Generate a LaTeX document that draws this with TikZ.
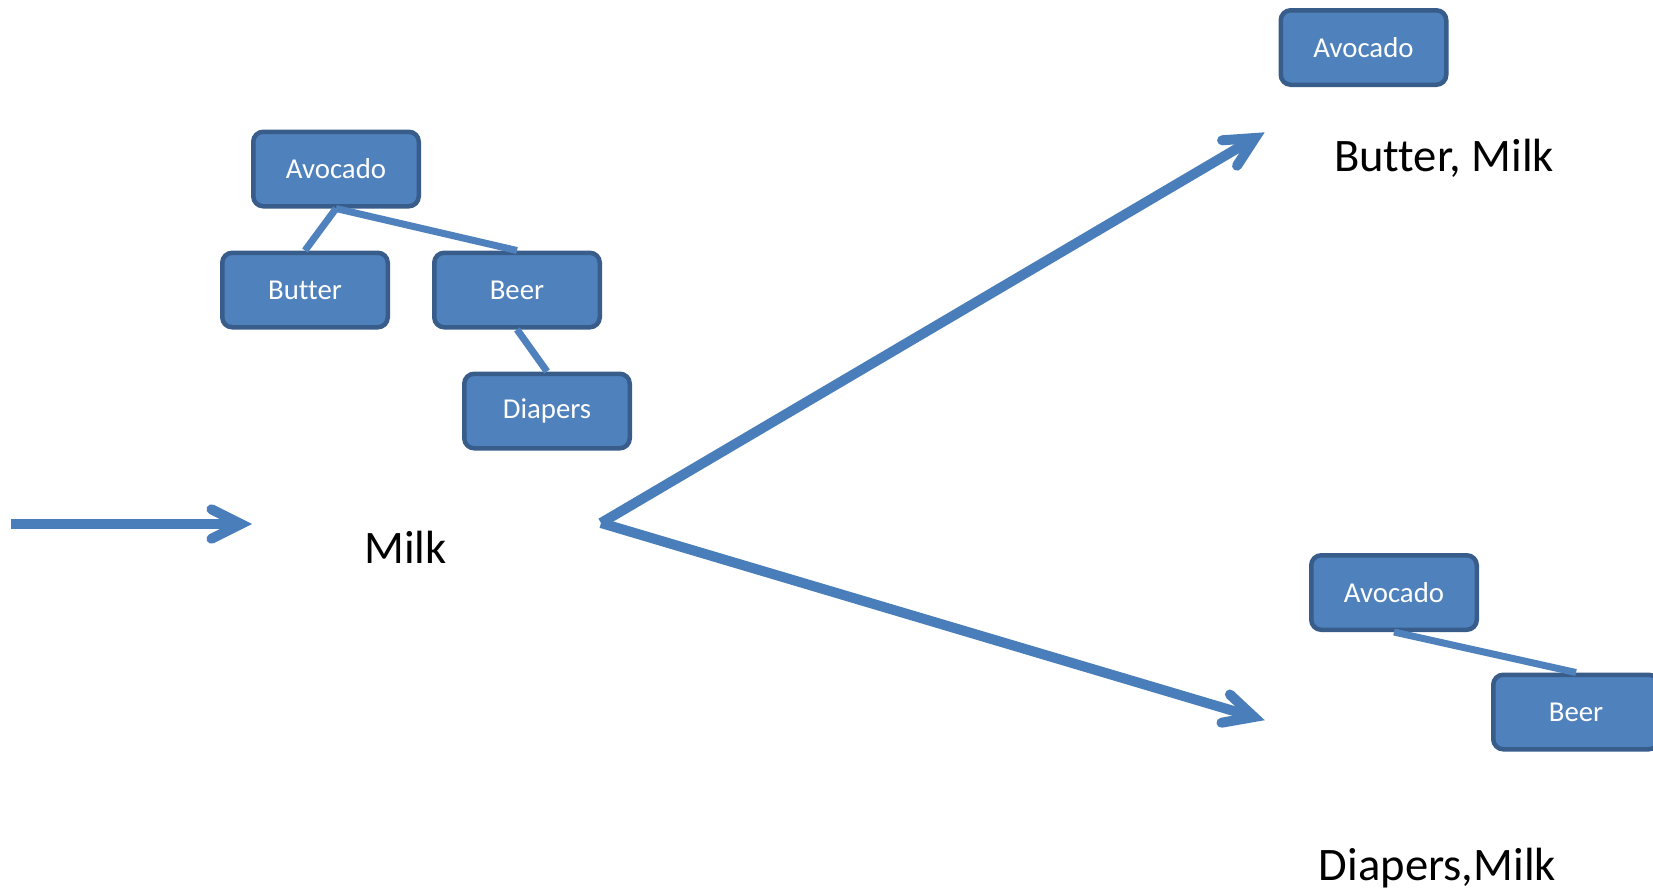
\documentclass[tikz,border=0pt]{standalone}
\usepackage{fontspec}
\setmainfont{Carlito}[Ligatures=NoCommon]
\usetikzlibrary{calc}
\definecolor{boxfill}{HTML}{4F81BD}
\definecolor{boxline}{HTML}{385D8A}
\definecolor{arrowblue}{HTML}{4A7EBB}
\tikzset{
  item/.style={draw=boxline, line width=2.25pt, fill=boxfill, rounded corners=5pt,
    minimum width=82.75pt, minimum height=37.25pt, inner sep=0pt, text=white,
    font=\fontsize{14.4}{17}\selectfont},
  bigtext/.style={anchor=base, inner sep=0pt, font=\fontsize{23.3}{28}\selectfont},
  link/.style={draw=boxfill, line width=3.5pt},
  flow/.style={draw=arrowblue, line width=5pt},
  barb/.style={draw=arrowblue, line width=5pt, line cap=round, line join=miter},
}
% open chevron head at #2 for a shaft coming from #1
\newcommand\chevron[2]{\draw[barb] ($(#2)!16.5pt!26.5:(#1)$) -- (#2) -- ($(#2)!16.5pt!-26.5:(#1)$);}
\begin{document}
\begin{tikzpicture}[x=0.5pt,y=-0.5pt]
\useasboundingbox (0,0) rectangle (1653,891);
\clip (0,0) rectangle (1653,891);

% tree on the left
\node[item] (av1) at (336,169) {Avocado};
\node[item] (bu1) at (305,290) {Butter};
\node[item] (be1) at (517,290) {Beer};
\node[item] (di1) at (547,411) {Diapers};
\draw[link] (av1.south) -- (bu1.north);
\draw[link] (av1.south) -- (be1.north);
\draw[link] (be1.south) -- (di1.north);

\node[bigtext] (milk) at (405.5,563) {Milk};

% incoming arrow
\coordinate (inS) at (10.5,524);
\coordinate (inT) at (241,524);
\draw[flow] (inS) -- (inT);
\chevron{inS}{inT}

% fork to the two branches
\coordinate (fork) at (601,523);
\coordinate (upT) at (1255,138);
\coordinate (dnT) at (1254,717);
\draw[flow] (fork) -- (upT);
\chevron{fork}{upT}
\draw[flow] (fork) -- (dnT);
\chevron{fork}{dnT}

% upper branch
\node[item] (av2) at (1363.5,47.5) {Avocado};
\node[bigtext] (bm) at (1444,171) {Butter, Milk};

% lower branch
\node[item] (av3) at (1394,592.5) {Avocado};
\node[item] (be3) at (1576,712) {Beer};
\draw[link] (av3.south) -- (be3.north);
\node[bigtext] (dm) at (1437.5,880.7) {Diapers,Milk};
\end{tikzpicture}
\end{document}
